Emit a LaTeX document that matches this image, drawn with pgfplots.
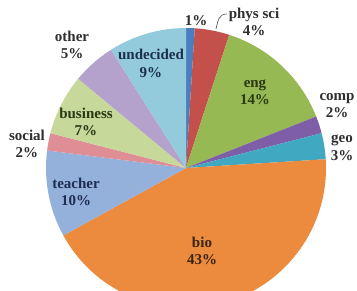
\documentclass[border=0pt]{standalone}
\usepackage{pgfplots}
\usepackage{pgfplotstable}
\pgfplotsset{compat=1.18}
\usepackage{fontspec}
\setmainfont{Liberation Serif}

\definecolor{c0}{HTML}{4A7EBE}
\definecolor{c1}{HTML}{C4504C}
\definecolor{c2}{HTML}{97B954}
\definecolor{c3}{HTML}{7E5EA6}
\definecolor{c4}{HTML}{41A8C2}
\definecolor{c5}{HTML}{EC8A3E}
\definecolor{c6}{HTML}{94B1DC}
\definecolor{c7}{HTML}{E08E96}
\definecolor{c8}{HTML}{C6D99A}
\definecolor{c9}{HTML}{B5A2CC}
\definecolor{c10}{HTML}{93CBDD}

\definecolor{t0}{HTML}{2E2E2E}
\definecolor{t1}{HTML}{2E2E2E}
\definecolor{t2}{HTML}{2C3A14}
\definecolor{t3}{HTML}{2E2E2E}
\definecolor{t4}{HTML}{2E2E2E}
\definecolor{t5}{HTML}{3A2412}
\definecolor{t6}{HTML}{1E2D52}
\definecolor{t7}{HTML}{2E2E2E}
\definecolor{t8}{HTML}{2A3814}
\definecolor{t9}{HTML}{2E2E2E}
\definecolor{t10}{HTML}{1E2F4E}

\newcommand\lbl{\fontsize{15}{17.5}\selectfont\bfseries}

\pgfplotstableread[col sep=comma]{
label,pct,lx,ly
-,1,196,269
phys sci,4,254,268
eng,14,255,198
comp,2,337,184.5
geo,3,342,142
bio,43,202,39
teacher,10,76,98
social,2,27,146
business,7,86,168
other,5,72,245
undecided,9,151,226.5
}\piedata

\def\dash{-}
\def\startang{90}

\begin{document}
\begin{tikzpicture}
\begin{axis}[
  scale only axis,
  width=357pt, height=290pt,
  xmin=0, xmax=357, ymin=0, ymax=290,
  axis line style={draw=none},
  ticks=none,
  clip=true,
]
\pgfplotsforeachungrouped \i in {0,...,10}{%
  \pgfplotstablegetelem{\i}{pct}\of\piedata \let\p\pgfplotsretval
  \pgfplotstablegetelem{\i}{lx}\of\piedata \let\lx\pgfplotsretval
  \pgfplotstablegetelem{\i}{ly}\of\piedata \let\ly\pgfplotsretval
  \pgfplotstablegetelem{\i}{label}\of\piedata \let\lab\pgfplotsretval
  \pgfmathsetmacro\endang{\startang-3.6*\p}%
  \edef\cmd{\noexpand\fill[c\i] (axis cs:186,122) -- ++(\startang:140pt) arc[start angle=\startang,end angle=\endang,radius=140pt] -- cycle;}%
  \cmd
  \ifx\lab\dash
    \edef\cmd{\noexpand\node[text=t\i,font=\noexpand\lbl,align=center,inner sep=0pt] at (axis cs:\lx,\ly) {\p\noexpand\%};}%
  \else
    \edef\cmd{\noexpand\node[text=t\i,font=\noexpand\lbl,align=center,inner sep=0pt] at (axis cs:\lx,\ly) {\lab\noexpand\\\p\noexpand\%};}%
  \fi
  \cmd
  \global\let\startang\endang
}
\draw[black!70, line width=0.6pt] (axis cs:216,261) .. controls (axis cs:218,270) and (axis cs:219,276) .. (axis cs:227,276);
\end{axis}
\end{tikzpicture}
\end{document}
